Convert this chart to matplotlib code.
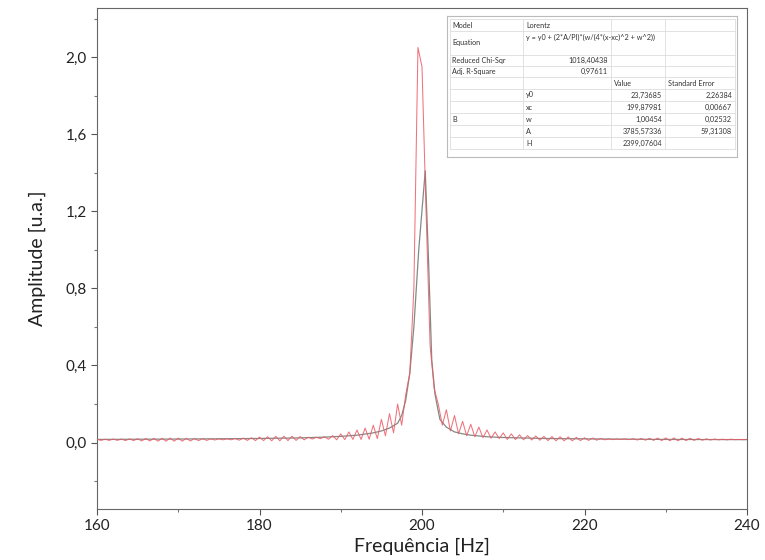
import matplotlib.pyplot as plt
import numpy as np
from matplotlib.ticker import MultipleLocator, FuncFormatter

plt.rcParams['font.family'] = ['Lato', 'DejaVu Sans']

# measured spectrum, sampled every 0.5 Hz from 160 to 240 Hz
freq_start, freq_step = 160.0, 0.5
amp = [
    0.017, 0.011, 0.017, 0.011, 0.018, 0.011, 0.018, 0.010, 0.019, 0.010,
    0.020, 0.008, 0.021, 0.008, 0.022, 0.007, 0.022, 0.007, 0.023, 0.007,
    0.023, 0.007, 0.022, 0.008, 0.021, 0.010, 0.020, 0.011, 0.019, 0.013,
    0.019, 0.014, 0.019, 0.014, 0.021, 0.012, 0.023, 0.011, 0.025, 0.010,
    0.028, 0.010, 0.030, 0.009, 0.032, 0.009, 0.033, 0.010, 0.033, 0.011,
    0.031, 0.014, 0.028, 0.018, 0.027, 0.020, 0.030, 0.017, 0.036, 0.014,
    0.045, 0.015, 0.055, 0.016, 0.065, 0.016, 0.075, 0.017, 0.090, 0.020,
    0.120, 0.035, 0.150, 0.050, 0.200, 0.090, 0.250, 0.360, 0.800, 2.050,
    1.950, 1.200, 0.500, 0.280, 0.200, 0.090, 0.170, 0.060, 0.140, 0.045,
    0.110, 0.035, 0.095, 0.030, 0.080, 0.025, 0.065, 0.022, 0.055, 0.020,
    0.050, 0.016, 0.045, 0.015, 0.040, 0.014, 0.036, 0.013, 0.034, 0.012,
    0.032, 0.010, 0.031, 0.009, 0.030, 0.009, 0.029, 0.009, 0.027, 0.010,
    0.025, 0.011, 0.023, 0.012, 0.021, 0.014, 0.019, 0.015, 0.018, 0.016,
    0.019, 0.015, 0.020, 0.013, 0.021, 0.012, 0.022, 0.011, 0.023, 0.010,
    0.024, 0.009, 0.024, 0.009, 0.023, 0.010, 0.022, 0.011, 0.021, 0.012,
    0.019, 0.013, 0.018, 0.014, 0.017, 0.014, 0.017, 0.015, 0.016, 0.015,
    0.016,
]
freq = freq_start + freq_step * np.arange(len(amp))

# Lorentz fit curve
fit_freq = [160, 170, 180, 185, 188, 190, 192, 194, 195, 196, 197, 197.5, 198, 198.5,
            199, 199.6, 200.4, 200.8, 201.2, 201.6, 202.2, 203, 204, 205, 206, 208,
            210, 215, 220, 230, 240]
fit_amp = [0.016, 0.018, 0.021, 0.024, 0.028, 0.032, 0.038, 0.050, 0.060, 0.075, 0.100,
           0.140, 0.220, 0.360, 0.600, 1.000, 1.410, 0.950, 0.430, 0.250, 0.120, 0.080,
           0.055, 0.045, 0.038, 0.030, 0.026, 0.021, 0.019, 0.016, 0.015]

# fit report table
tbl_rows = [
    ['Model', 'Lorentz'],
    ['Equation', 'y = y0 + (2*A/PI)*(w/(4*(x-xc)^2 + w^2))'],
    ['Reduced Chi-Sqr', '1018,40438'],
    ['Adj. R-Square', '0,97611'],
]
param_names = ['y0', 'xc', 'w', 'A', 'H']
param_values = ['23,73685', '199,87981', '1,00454', '3785,57336', '2399,07604']
param_errors = ['2,26384', '0,00667', '0,02532', '59,31308', '']

fig = plt.figure(figsize=(7.65, 5.6), dpi=100)
ax = fig.add_axes([97 / 765, 1 - 509 / 560, 650 / 765, 501 / 560])

ax.plot(fit_freq, fit_amp, color='#7f8c86', lw=0.9, zorder=2)
ax.plot(freq, amp, color='#ec5a66', lw=0.75, alpha=0.85, zorder=3)

ax.set_xlim(160, 240)
ax.set_ylim(-0.345, 2.255)
ax.xaxis.set_major_locator(MultipleLocator(20))
ax.xaxis.set_minor_locator(MultipleLocator(10))
ax.yaxis.set_major_locator(MultipleLocator(0.4))
ax.yaxis.set_minor_locator(MultipleLocator(0.2))
ax.yaxis.set_major_formatter(FuncFormatter(lambda v, p: f'{v:.1f}'.replace('.', ',').replace('-0,0', '0,0')))
ax.tick_params(which='major', length=4, width=0.8, color='#555555', labelsize=11, labelcolor='#222222')
ax.tick_params(which='minor', length=2, width=0.8, color='#777777')
for s in ax.spines.values():
    s.set_color('#666666')
    s.set_linewidth(0.8)

ax.set_xlabel('Frequência [Hz]', fontsize=14, color='#222222', labelpad=3)
ax.set_ylabel('Amplitude [u.a.]', fontsize=14, color='#222222', labelpad=14)

# inset fit table, drawn in pixel units
W, H = 290, 141
tx = fig.add_axes([447 / 765, 1 - (16 + H) / 560, W / 765, H / 560])
tx.set_xlim(0, W)
tx.set_ylim(H, 0)
tx.set_xticks([])
tx.set_yticks([])
for s in tx.spines.values():
    s.set_color('#bbbbbb')
    s.set_linewidth(0.8)
cols = [0, 76, 164, 218, 288]
rows = [3, 15, 39, 50, 61, 73, 85, 97, 109, 121, 133]
gc = '#dddddd'
fs = 5.2
tc = '#333333'
for y in rows:
    tx.plot([3, 288], [y, y], color=gc, lw=0.6)
for c in cols[1:]:
    tx.plot([c, c], [rows[0], rows[-1]], color=gc, lw=0.6)
tx.plot([3, 3], [rows[0], rows[-1]], color=gc, lw=0.6)

for i, r in enumerate(tbl_rows):
    yc = (rows[i] + rows[i + 1]) / 2
    tx.text(cols[0] + 5, yc, r[0], fontsize=fs, color=tc, va='center')
    if i < 2:
        tx.text(cols[1] + 3, rows[i] + 6, r[1], fontsize=fs, color=tc, va='center')
    else:
        tx.text(cols[2] - 3, yc, r[1], fontsize=fs, color=tc, va='center', ha='right')

yc = (rows[4] + rows[5]) / 2
tx.text(cols[2] + 3, yc, 'Value', fontsize=fs, color=tc, va='center')
tx.text(cols[3] + 3, yc, 'Standard Error', fontsize=fs, color=tc, va='center')
tx.text(cols[0] + 5, (rows[5] + rows[-1]) / 2, 'B', fontsize=fs, color=tc, va='center')
for j, (n, v, e) in enumerate(zip(param_names, param_values, param_errors)):
    yc = (rows[5 + j] + rows[6 + j]) / 2
    tx.text(cols[1] + 3, yc, n, fontsize=fs, color=tc, va='center')
    tx.text(cols[3] - 3, yc, v, fontsize=fs, color=tc, va='center', ha='right')
    tx.text(cols[4] - 3, yc, e, fontsize=fs, color=tc, va='center', ha='right')

fig.savefig('out.png', dpi=100)
